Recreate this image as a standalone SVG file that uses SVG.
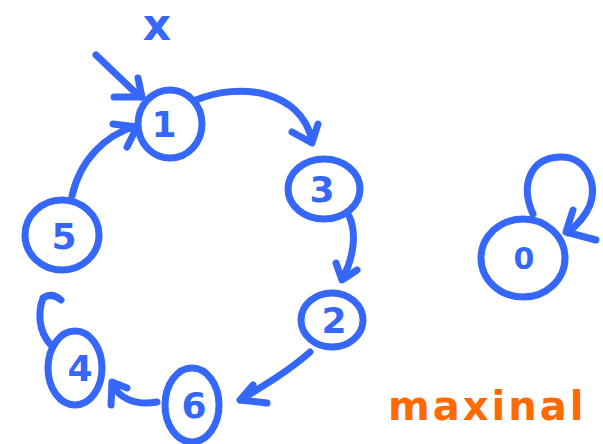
<svg xmlns="http://www.w3.org/2000/svg" width="603" height="444" viewBox="0 0 603 444">
<style>
.s{fill:none;stroke:#3567fb;stroke-width:7;stroke-linecap:round;stroke-linejoin:round}
.t{font-family:"DejaVu Sans",sans-serif;font-weight:bold;fill:#3567fb;text-anchor:middle}
.o{font-family:"DejaVu Sans",sans-serif;font-weight:bold;fill:#ff6a00}
</style>
<rect width="603" height="444" fill="#fff"/>
<text class="t" x="157" y="40" font-size="44">x</text>
<g id="n1"><ellipse class="s" cx="170" cy="124" rx="32" ry="34"/><text class="t" x="164" y="137" font-size="36">1</text></g>
<g id="n3"><ellipse class="s" cx="324" cy="189" rx="36" ry="30"/><text class="t" x="322" y="202" font-size="36">3</text></g>
<g id="n2"><ellipse class="s" cx="332" cy="320" rx="31" ry="27"/><text class="t" x="334" y="333" font-size="36">2</text></g>
<g id="n6"><ellipse class="s" cx="192" cy="405" rx="27" ry="37"/><text class="t" x="194" y="418" font-size="36">6</text></g>
<g id="n4"><ellipse class="s" cx="75" cy="368" rx="27" ry="37"/><text class="t" x="80" y="381" font-size="36">4</text></g>
<g id="n5"><ellipse class="s" cx="62" cy="235" rx="37" ry="35"/><text class="t" x="64" y="249" font-size="36">5</text></g>
<g id="n0"><ellipse class="s" cx="523" cy="258" rx="42" ry="39"/><text class="t" x="524" y="269" font-size="30">0</text></g>
<g id="edges">
<path class="s" d="M96,55 L140,97 M138,78 L142,97 L114,97"/>
<path class="s" d="M196,100 C240,82 300,90 312,140 M292,132 L312,143 L318,124"/>
<path class="s" d="M349,216 C358,235 352,262 342,279 M336,263 L342,280 L357,270"/>
<path class="s" d="M310,352 C290,370 265,385 240,400 M253,385 L240,400 L267,403"/>
<path class="s" d="M157,402 C135,406 118,398 112,383 M127,388 L112,382 L111,405"/>
<path class="s" d="M50,344 C38,330 38,312 43,298 Q52,292 61,300"/>
<path class="s" d="M72,196 C80,160 105,135 136,126 M113,124 L137,127 L127,147"/>
<path class="s" d="M533,214 C520,185 530,158 560,157 C585,156 598,182 590,205 C586,215 580,222 568,233 M573,210 L566,232 L596,240"/>
</g>
<text class="o" x="388" y="420" font-size="40" letter-spacing="3">maxinal</text>
</svg>
